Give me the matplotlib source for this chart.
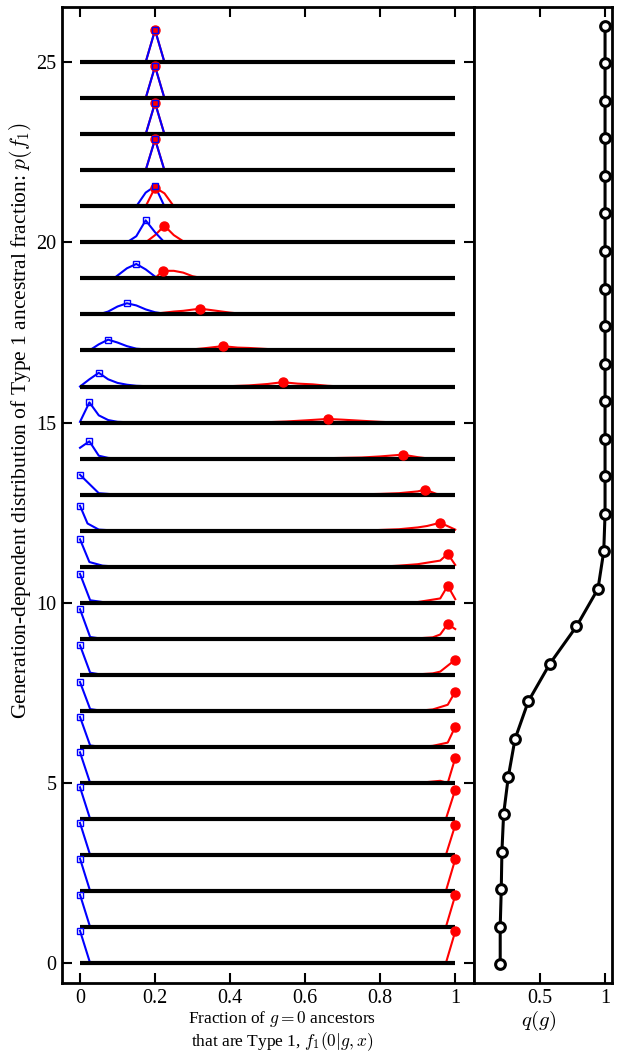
import matplotlib
matplotlib.use("Agg")
import matplotlib.pyplot as plt
import numpy as np

plt.rcParams['font.family'] = 'serif'
plt.rcParams['font.serif'] = ['Liberation Serif', 'DejaVu Serif']
plt.rcParams['mathtext.fontset'] = 'cm'

generations = list(range(26))

# q(g) per generation
q_g = [0.20, 0.20, 0.208, 0.213, 0.226, 0.262, 0.313, 0.414, 0.578, 0.782,
       0.946, 0.99, 1.0, 1.0, 1.0, 1.0, 1.0, 1.0, 1.0, 1.0,
       1.0, 1.0, 1.0, 1.0, 1.0, 1.0]

# blue curves: (x points, heights above the generation baseline), index = generation
blue_x = [
    [0, 0.027], [0, 0.027], [0, 0.027], [0, 0.027], [0, 0.027], [0, 0.027],
    [0, 0.027, 0.06], [0, 0.027, 0.06], [0, 0.027, 0.06], [0, 0.027, 0.06],
    [0, 0.027, 0.06, 0.1], [0, 0.025, 0.06, 0.1], [0, 0.02, 0.05, 0.1],
    [0, 0.05, 0.1], [0, 0.025, 0.05, 0.075, 0.1],
    [0, 0.025, 0.05, 0.075, 0.1, 0.15],
    [0, 0.025, 0.05, 0.075, 0.1, 0.125, 0.15, 0.2],
    [0.025, 0.05, 0.075, 0.1, 0.125, 0.15, 0.2, 0.25],
    [0.05, 0.075, 0.1, 0.125, 0.15, 0.175, 0.2, 0.225],
    [0.09, 0.125, 0.15, 0.175, 0.2, 0.21],
    [0.125, 0.15, 0.175, 0.2, 0.225],
    [0.15, 0.175, 0.2, 0.225],
    [0.15, 0.175, 0.2, 0.225], [0.175, 0.2, 0.225], [0.175, 0.2, 0.225],
    [0.175, 0.2, 0.225],
]
blue_h = [
    [0.90, 0], [0.90, 0], [0.90, 0], [0.89, 0], [0.88, 0], [0.85, 0],
    [0.83, 0.04, 0], [0.80, 0.05, 0], [0.82, 0.06, 0], [0.82, 0.05, 0],
    [0.80, 0.07, 0.02, 0], [0.76, 0.13, 0.03, 0], [0.69, 0.2, 0.03, 0],
    [0.55, 0.04, 0], [0.3, 0.48, 0.08, 0.02, 0],
    [0.02, 0.56, 0.2, 0.07, 0.02, 0],
    [0, 0.2, 0.38, 0.2, 0.1, 0.05, 0.02, 0],
    [0, 0.17, 0.30, 0.22, 0.12, 0.05, 0.01, 0],
    [0, 0.08, 0.22, 0.31, 0.25, 0.14, 0.06, 0.02],
    [0, 0.28, 0.40, 0.25, 0.05, 0],
    [0, 0.17, 0.61, 0.28, 0],
    [0, 0.38, 0.56, 0],
    [0, 0, 0.86, 0], [0, 0.87, 0], [0, 0.88, 0], [0, 0.89, 0],
]

red_x = [
    [0.975, 1.0], [0.975, 1.0], [0.975, 1.0], [0.975, 1.0], [0.975, 1.0],
    [0.9, 0.96, 0.98, 1.0],
    [0.9, 0.94, 0.98, 1.0], [0.9, 0.94, 0.98, 1.0],
    [0.88, 0.94, 0.96, 1.0], [0.88, 0.94, 0.96, 0.98, 1.0],
    [0.85, 0.9, 0.96, 0.98, 1.0], [0.8, 0.85, 0.9, 0.96, 0.98, 1.0],
    [0.75, 0.8, 0.85, 0.9, 0.925, 0.96, 1.0],
    [0.7, 0.8, 0.85, 0.9, 0.92, 0.95, 0.97],
    [0.6, 0.7, 0.75, 0.8, 0.86, 0.9, 0.93],
    [0.45, 0.5, 0.55, 0.6, 0.66, 0.7, 0.75, 0.8, 0.85],
    [0.35, 0.4, 0.45, 0.5, 0.54, 0.58, 0.62, 0.66, 0.7],
    [0.25, 0.3, 0.33, 0.38, 0.42, 0.45, 0.5, 0.55, 0.6],
    [0.2, 0.25, 0.275, 0.32, 0.35, 0.4, 0.43, 0.45],
    [0.2, 0.22, 0.25, 0.275, 0.3, 0.33],
    [0.175, 0.2, 0.225, 0.25, 0.275, 0.3],
    [0.175, 0.2, 0.225, 0.25],
    [0.175, 0.2, 0.225], [0.175, 0.2, 0.225], [0.175, 0.2, 0.225],
    [0.175, 0.2, 0.225],
]
red_h = [
    [0, 0.88], [0, 0.88], [0, 0.88], [0, 0.83], [0, 0.81],
    [0, 0.06, 0, 0.69],
    [0, 0.03, 0.12, 0.56], [0, 0.04, 0.17, 0.53],
    [0, 0.04, 0.09, 0.42], [0, 0.04, 0.12, 0.41, 0.27],
    [0, 0.02, 0.12, 0.47, 0.1], [0, 0.03, 0.07, 0.17, 0.36, 0.05],
    [0, 0.02, 0.04, 0.09, 0.13, 0.22, 0.03],
    [0, 0.02, 0.04, 0.09, 0.14, 0.02, 0],
    [0, 0.02, 0.03, 0.06, 0.11, 0.04, 0],
    [0, 0.01, 0.03, 0.06, 0.10, 0.08, 0.05, 0.02, 0],
    [0, 0.01, 0.03, 0.07, 0.12, 0.08, 0.06, 0.02, 0],
    [0.01, 0.03, 0.06, 0.12, 0.08, 0.07, 0.04, 0.01, 0],
    [0.02, 0.08, 0.1, 0.16, 0.12, 0.05, 0.02, 0],
    [0, 0.21, 0.21, 0.16, 0.06, 0],
    [0, 0.2, 0.46, 0.2, 0.03, 0],
    [0, 0.52, 0.36, 0],
    [0, 0.86, 0], [0, 0.87, 0], [0, 0.88, 0], [0, 0.89, 0],
]

fig = plt.figure(figsize=(6.23, 10.55), dpi=100)
ax = fig.add_axes([62/623, 1 - 983/1055, 412/623, 976/1055])
ax2 = fig.add_axes([474/623, 1 - 983/1055, 138/623, 976/1055])

for g in generations:
    rx = np.array(red_x[g]); rh = np.array(red_h[g])
    bx = np.array(blue_x[g]); bh = np.array(blue_h[g])
    ax.plot(rx, g + rh, color='red', lw=1.5, zorder=2)
    i = np.argmax(rh)
    ax.plot(rx[i], g + rh[i], 'o', color='red', markersize=6.5, zorder=4)
    ax.plot(bx, g + bh, color='blue', lw=1.5, zorder=2)
    j = np.argmax(bh)
    ax.plot(bx[j], g + bh[j], 's', mec='blue', mfc='none', mew=1.0,
            markersize=4, zorder=5)
    ax.plot([0, 1], [g, g], color='black', lw=3, zorder=3, solid_capstyle='butt')

ax.set_xlim(-0.048, 1.05)
ax.set_ylim(-0.55, 26.53)
ax.set_xticks([0, 0.2, 0.4, 0.6, 0.8, 1.0])
ax.set_xticklabels(['0', '0.2', '0.4', '0.6', '0.8', '1'])
ax.set_yticks([0, 5, 10, 15, 20, 25])
ax.tick_params(direction='in', top=True, right=True, length=7, width=1.5,
               labelsize=14.5, pad=4)

ax2.plot(q_g, generations, color='black', lw=2.2, marker='o', markersize=7,
         mfc='white', mec='black', mew=2.2)
ax2.set_xlim(0, 1.053)
ax2.set_ylim(-0.5, 25.5)
ax2.set_xticks([0.5, 1.0])
ax2.set_xticklabels(['0.5', '1'])
ax2.set_yticks([])
ax2.tick_params(direction='in', top=True, length=7, width=1.5,
                labelsize=14.5, pad=4)

for a in (ax, ax2):
    for s in a.spines.values():
        s.set_linewidth(2)

fig.text(21/623, 1 - 421/1055,
         'Generation-dependent distribution of Type 1 ancestral fraction: $p(f_1)$',
         rotation=90, ha='center', va='center', fontsize=15.5)
fig.text(282/623, 1 - 1019/1055, 'Fraction of $g = 0$ ancestors',
         ha='center', va='center', fontsize=12.5)
fig.text(282/623, 1 - 1042/1055, 'that are Type 1, $f_1(0|g,x)$',
         ha='center', va='center', fontsize=12.5)
fig.text(539/623, 1 - 1021/1055, '$q(g)$', ha='center', va='center', fontsize=15)

fig.savefig('out.png', dpi=100)
